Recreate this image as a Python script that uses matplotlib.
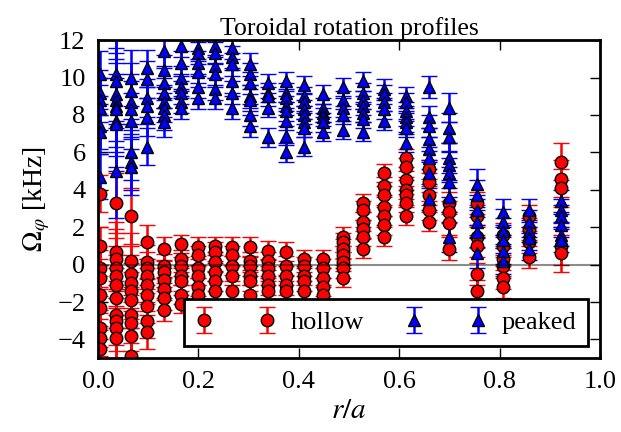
import numpy as np
import matplotlib
matplotlib.use("Agg")
import matplotlib.pyplot as plt

plt.rcParams['font.family'] = ['Liberation Serif', 'DejaVu Serif']
plt.rcParams['mathtext.fontset'] = 'stix'
plt.rcParams['font.size'] = 19

# radial positions of the measurement channels
r_cols = [0.003, 0.035, 0.066, 0.098, 0.132, 0.166, 0.2, 0.233, 0.267, 0.302,
          0.338, 0.374, 0.411, 0.449, 0.489, 0.528, 0.569, 0.614, 0.659, 0.70,
          0.755, 0.806, 0.859, 0.923]

# peaked profiles (kHz), one list per radial position
peaked_vals = [
    [10.2, 9.2, 8.8, 8.4, 7.4, 7.1, 4.7],
    [10.2, 9.8, 9.1, 8.8, 8.5, 8.3, 7.7, 7.5, 5.0],
    [10.0, 9.3, 8.7, 8.3, 7.7, 6.0, 5.5, 5.2],
    [10.5, 9.9, 8.9, 8.5, 7.9, 6.3],
    [11.4, 10.4, 9.7, 9.2, 8.7, 8.4, 8.0, 7.6],
    [11.7, 10.8, 10.0, 9.5, 9.2, 8.7, 8.4],
    [11.6, 11.3, 10.8, 10.3, 9.5, 8.9],
    [11.7, 11.3, 10.6, 10.2, 9.4, 8.9],
    [11.6, 11.1, 10.7, 9.8, 9.2, 8.4],
    [10.7, 10.2, 9.7, 9.0, 8.8, 8.0, 7.4],
    [9.7, 9.2, 9.0, 8.4, 6.8],
    [9.8, 9.2, 8.9, 8.5, 8.2, 7.7, 6.9, 6.0],
    [9.6, 9.0, 8.7, 8.3, 8.0, 7.6, 7.3, 6.3],
    [9.1, 8.4, 8.1, 7.9, 7.6, 7.1],
    [9.5, 8.8, 8.4, 8.0, 7.2],
    [9.8, 9.2, 8.8, 8.5, 8.1, 7.8, 7.1],
    [9.4, 9.1, 8.7, 8.3, 7.7],
    [9.0, 8.7, 8.2, 7.9, 7.6, 7.3, 6.5],
    [9.5, 7.9, 7.4, 6.7, 6.2, 5.7, 4.9, 3.5],
    [8.4, 7.3, 6.8, 5.7, 5.3, 4.9, 4.4, 3.6, 1.5],
    [4.3, 3.7, 2.9, 2.3, 1.75, 0.6],
    [2.8, 2.3, 1.8, 1.3, 0.75, 0.2],
    [2.9, 2.3, 1.8, 1.4, 0.85],
    [3.4, 2.9, 2.6, 2.1, 1.6, 1.3],
]
peaked_err = [1.2, 2.5, 1.5, 1.0, 0.8, 0.6, 0.6, 0.6, 0.6, 0.6, 0.5, 0.5,
              0.5, 0.5, 0.5, 0.5, 0.5, 0.5, 0.6, 0.8, 0.8, 0.7, 0.6, 0.6]

# hollow profiles (kHz)
hollow_vals = [
    [3.8, 1.0, -0.2, -0.7, -1.6, -2.3, -3.4, -3.9, -4.5],
    [3.3, 0.7, 0.3, -0.2, -0.6, -1.1, -1.8, -2.7, -3.0, -3.4, -3.9],
    [2.6, 0.2, -0.5, -1.0, -1.4, -1.9, -2.7, -3.1, -3.8, -4.9],
    [1.2, 0.15, -0.2, -0.6, -1.1, -1.6, -2.2, -3.0, -3.6],
    [0.85, -0.05, -0.4, -0.8, -1.3, -1.8, -2.4],
    [1.1, 0.3, -0.1, -0.6, -0.9, -1.6, -2.1],
    [0.95, 0.5, -0.2, -0.6, -1.2, -1.6],
    [1.0, 0.7, 0.15, -0.4, -0.9, -1.4],
    [0.95, 0.5, -0.05, -0.6, -1.4],
    [0.95, 0.2, -0.1, -0.6, -0.9, -1.6],
    [0.75, 0.2, -0.2, -0.6, -1.1, -1.4],
    [0.7, -0.05, -0.6, -1.1, -1.4],
    [0.3, -0.1, -0.6, -0.9, -1.4],
    [0.3, -0.2, -0.7, -1.2, -1.6],
    [1.5, 1.2, 0.85, 0.5, 0.15, -0.2, -0.7],
    [3.3, 2.9, 2.3, 1.9, 1.5, 0.85],
    [4.9, 4.2, 3.7, 3.1, 2.6, 2.1, 1.5],
    [5.7, 5.2, 4.5, 4.0, 3.7, 3.3, 2.6],
    [5.1, 4.4, 3.7, 2.9, 2.3],
    [3.3, 2.8, 2.2, 0.85],
    [3.3, 2.6, 1.5, 1.0, -0.5, -1.4],
    [1.6, 1.0, 0.3, -0.1, -0.7, -1.2],
    [2.6, 1.9, 1.2, 0.4],
    [5.5, 4.6, 4.1, 1.0, 0.6],
]
hollow_err = [1.0, 1.6, 1.5, 0.9, 0.6, 0.5, 0.5, 0.5, 0.5, 0.5, 0.5, 0.5,
              0.5, 0.5, 0.5, 0.5, 0.5, 0.5, 0.5, 0.6, 0.6, 0.6, 0.6, 1.0]


def flatten(vals, errs):
    x, y, e = [], [], []
    for r, v, s in zip(r_cols, vals, errs):
        x += [r] * len(v)
        y += v
        e += [s] * len(v)
    return np.array(x), np.array(y), np.array(e)


fig = plt.figure(figsize=(6.21, 4.32), dpi=100)
ax = fig.add_axes([0.158, 0.171, 0.808, 0.736])

hx, hy, he = flatten(hollow_vals, hollow_err)
px, py, pe = flatten(peaked_vals, peaked_err)

ax.errorbar(hx, hy, yerr=he, fmt='o', color='r', ecolor='r', mec='k', mew=1,
            ms=9, capsize=5.5, elinewidth=1.8, capthick=1.8, label='hollow')
ax.errorbar(px, py, yerr=pe, fmt='^', color='b', ecolor='b', mec='k', mew=1,
            ms=9, capsize=5.5, elinewidth=1.8, capthick=1.8, label='peaked')
ax.axhline(0, color='k', alpha=0.45, lw=1.5, zorder=5)

ax.set_xlim(0, 1)
ax.set_ylim(-5, 12)
ax.set_yticks(np.arange(-4, 13, 2))
ax.tick_params(direction='in', top=True, right=True, length=7, width=1, pad=9)
for sp in ax.spines.values():
    sp.set_linewidth(2)

ax.set_title('Toroidal rotation profiles', fontsize=18.5, pad=4)
ax.set_xlabel(r'$r/a$', fontsize=21)
ax.set_ylabel(r'$\Omega_\varphi$ [kHz]', fontsize=20)

leg = ax.legend(loc='lower right', ncol=2, numpoints=2, handlelength=3.0,
                fancybox=False, framealpha=1, borderaxespad=0.45,
                columnspacing=1.6, handletextpad=0.6, borderpad=0.45)
leg.get_frame().set_edgecolor('k')
leg.get_frame().set_linewidth(2)
leg.set_zorder(20)

plt.savefig('out.png', dpi=100)
